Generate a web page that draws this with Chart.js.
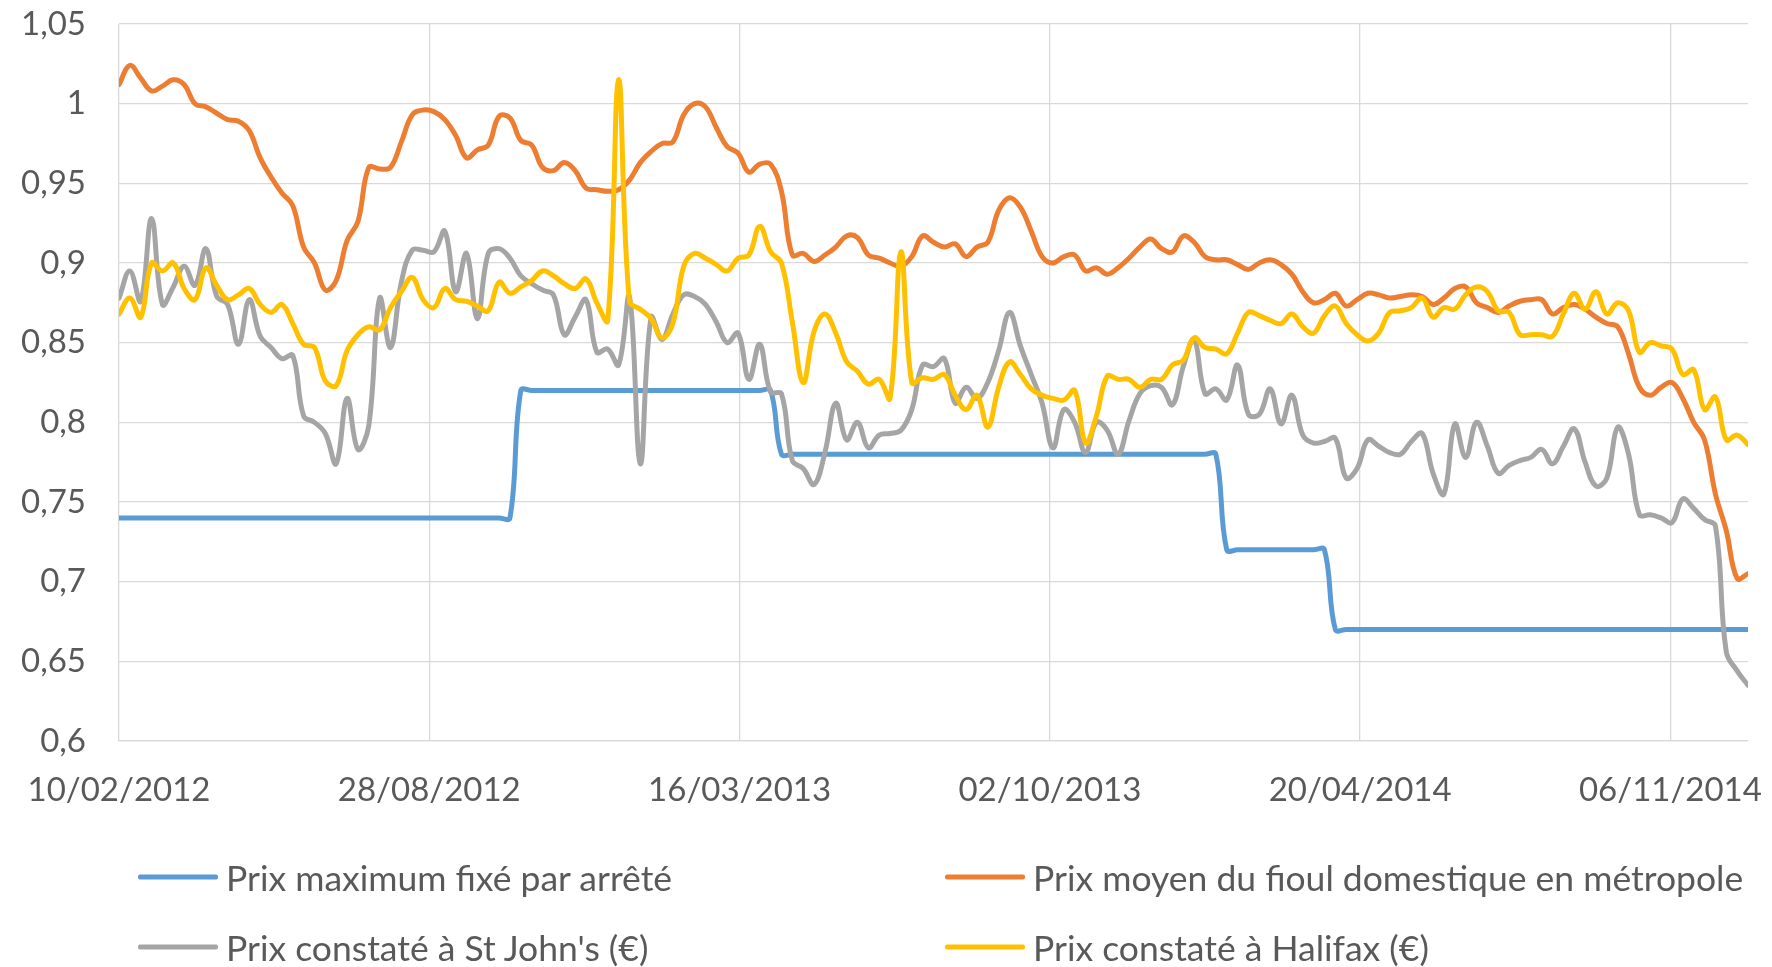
<!DOCTYPE html>
<html lang="fr">
<head>
<meta charset="utf-8">
<title>Prix du fioul domestique</title>
<script src="https://cdn.jsdelivr.net/npm/chart.js@4"></script>
<style>
  html, body { margin: 0; padding: 0; background: #fff; }
  .wrap { position: relative; width: 1772px; height: 967px; }
  canvas { position: absolute; left: 0; top: 0; }
  .item {
    position: absolute;
    display: flex;
    align-items: center;
    transform: translateY(-50%);
    font-family: Lato, "Liberation Sans", sans-serif;
    font-size: 35.5px;
    color: #595959;
    white-space: nowrap;
  }
  .trait { display: inline-block; width: 80px; height: 5px; margin-right: 8px; border-radius: 2px; }
</style>
</head>
<body>
<div class="wrap">
  <canvas id="graphPrix" width="1772" height="967"></canvas>
  <div id="legende"></div>
</div>
<script>
// jours depuis le 10/02/2012 (relevés hebdomadaires)
const jours = [0,7,14,21,28,35,42,49,56,63,70,77,84,91,98,105,112,119,126,133,
  140,147,154,161,168,175,182,189,196,203,210,217,224,231,238,245,252,259,266,273,
  280,287,294,301,308,315,322,329,336,343,350,357,364,371,378,385,392,399,406,413,
  420,427,434,441,448,455,462,469,476,483,490,497,504,511,518,525,532,539,546,553,
  560,567,574,581,588,595,602,609,616,623,630,637,644,651,658,665,672,679,686,693,
  700,707,714,721,728,735,742,749,756,763,770,777,784,791,798,805,812,819,826,833,
  840,847,854,861,868,875,882,889,896,903,910,917,924,931,938,945,952,959,966,973,
  980,987,994,1001,1008,1015,1022,1029,1036,1043,1050];

// prix maximum fixé par arrêté (paliers)
const joursArrete = [0,245,252,259,266,413,420,427,434,700,707,714,721,770,777,784,791,1050];
const prixArrete = [0.74,0.74,0.74,0.82,0.82,0.82,0.82,0.78,0.78,0.78,0.78,0.72,0.72,0.72,0.72,0.67,0.67,0.67];

const prixMetropole = [
  1.012,1.024,1.016,1.008,1.011,1.015,1.012,1.0,0.998,0.994,
  0.99,0.989,0.983,0.966,0.954,0.944,0.936,0.91,0.90,0.883,
  0.889,0.914,0.926,0.960,0.959,0.960,0.976,0.993,0.996,0.995,
  0.990,0.980,0.966,0.971,0.974,0.992,0.991,0.977,0.974,0.960,
  0.958,0.963,0.958,0.947,0.946,0.945,0.946,0.952,0.963,0.970,
  0.975,0.976,0.993,1.0,0.998,0.985,0.973,0.969,0.957,0.962,
  0.962,0.945,0.905,0.906,0.901,0.905,0.910,0.917,0.916,0.905,
  0.903,0.900,0.898,0.904,0.917,0.913,0.910,0.912,0.904,0.910,
  0.913,0.933,0.941,0.935,0.920,0.904,0.900,0.904,0.905,0.895,
  0.897,0.893,0.897,0.903,0.910,0.915,0.909,0.907,0.917,0.913,
  0.904,0.902,0.902,0.899,0.896,0.900,0.902,0.899,0.893,0.882,
  0.875,0.877,0.881,0.873,0.877,0.881,0.880,0.878,0.879,0.880,
  0.879,0.874,0.878,0.884,0.885,0.875,0.872,0.869,0.873,0.876,
  0.877,0.877,0.868,0.872,0.874,0.871,0.866,0.862,0.860,0.843,
  0.822,0.817,0.822,0.825,0.815,0.800,0.789,0.755,0.732,0.702,
  0.705];

const prixStJohns = [
  0.878,0.895,0.876,0.928,0.874,0.885,0.898,0.886,0.909,0.879,
  0.874,0.849,0.877,0.854,0.847,0.840,0.842,0.804,0.800,0.793,
  0.774,0.815,0.783,0.798,0.878,0.847,0.888,0.908,0.908,0.907,
  0.920,0.882,0.906,0.865,0.906,0.909,0.903,0.892,0.887,0.883,
  0.880,0.855,0.866,0.877,0.844,0.846,0.836,0.879,0.774,0.866,
  0.852,0.868,0.880,0.879,0.874,0.863,0.850,0.856,0.827,0.849,
  0.819,0.818,0.776,0.771,0.761,0.781,0.812,0.789,0.800,0.784,
  0.792,0.793,0.795,0.808,0.836,0.835,0.840,0.812,0.822,0.815,
  0.825,0.845,0.869,0.848,0.830,0.812,0.784,0.808,0.800,0.781,
  0.800,0.795,0.780,0.801,0.818,0.823,0.822,0.811,0.835,0.852,
  0.818,0.821,0.814,0.836,0.805,0.805,0.821,0.799,0.817,0.792,
  0.787,0.788,0.790,0.765,0.771,0.789,0.785,0.781,0.780,0.788,
  0.793,0.768,0.755,0.799,0.778,0.800,0.785,0.768,0.773,0.776,
  0.778,0.783,0.774,0.785,0.796,0.775,0.760,0.765,0.797,0.780,
  0.742,0.742,0.740,0.737,0.752,0.746,0.739,0.735,0.656,0.644,
  0.635];

const prixHalifax = [
  0.868,0.878,0.866,0.900,0.895,0.900,0.884,0.877,0.897,0.886,
  0.877,0.880,0.884,0.874,0.869,0.874,0.862,0.849,0.847,0.826,
  0.823,0.845,0.855,0.860,0.858,0.872,0.882,0.891,0.877,0.872,
  0.884,0.877,0.876,0.873,0.870,0.888,0.881,0.885,0.889,0.895,
  0.892,0.887,0.884,0.890,0.875,0.864,1.015,0.876,0.871,0.865,
  0.853,0.862,0.898,0.906,0.903,0.899,0.895,0.903,0.905,0.923,
  0.907,0.900,0.863,0.825,0.857,0.868,0.856,0.838,0.832,0.824,
  0.827,0.815,0.907,0.825,0.828,0.827,0.830,0.817,0.808,0.817,
  0.797,0.822,0.838,0.830,0.821,0.817,0.815,0.814,0.820,0.787,
  0.804,0.829,0.827,0.827,0.822,0.827,0.827,0.836,0.839,0.853,
  0.847,0.846,0.843,0.856,0.869,0.867,0.864,0.862,0.868,0.860,
  0.856,0.867,0.873,0.862,0.855,0.851,0.856,0.869,0.870,0.872,
  0.878,0.866,0.872,0.871,0.880,0.885,0.882,0.870,0.869,0.855,
  0.855,0.855,0.854,0.868,0.881,0.871,0.882,0.868,0.875,0.870,
  0.844,0.850,0.848,0.846,0.830,0.833,0.808,0.816,0.789,0.792,
  0.786];

const nomsSeries = [
  "Prix maximum fixé par arrêté",
  "Prix moyen du fioul domestique en métropole",
  "Prix constaté à St John's (€)",
  "Prix constaté à Halifax (€)"
];
const couleurs = ['#5b9bd5', '#ed7d31', '#a5a5a5', '#ffc000'];

const dateDebut = new Date(2012, 1, 10);
const police = { family: 'Lato, "Liberation Sans", sans-serif', size: 33 };

/**
 * transforme un nombre de jours en date jj/mm/aaaa
 */
function formatDate(nbJours) {
  const d = new Date(dateDebut.getFullYear(), dateDebut.getMonth(), dateDebut.getDate() + nbJours);
  const jj = String(d.getDate()).padStart(2, '0');
  const mm = String(d.getMonth() + 1).padStart(2, '0');
  return jj + '/' + mm + '/' + d.getFullYear();
}

function points(xs, ys) {
  return xs.map((x, i) => ({ x: x, y: ys[i] }));
}

function serie(i, data, ordre) {
  return {
    label: nomsSeries[i],
    data: data,
    borderColor: couleurs[i],
    backgroundColor: couleurs[i],
    borderWidth: 5,
    pointRadius: 0,
    tension: 0.4,
    borderCapStyle: 'round',
    borderJoinStyle: 'round',
    order: ordre,
  };
}

const ctx = document.getElementById('graphPrix');

new Chart(ctx, {
  type: 'line',
  data: {
    datasets: [
      serie(0, points(joursArrete, prixArrete), 3),
      serie(1, points(jours, prixMetropole), 2),
      serie(2, points(jours, prixStJohns), 1),
      serie(3, points(jours, prixHalifax), 0),
    ]
  },
  options: {
    responsive: false,
    animation: false,
    layout: { padding: { top: 24, right: 24, bottom: 146, left: 0 } },
    plugins: {
      legend: { display: false },
      tooltip: { enabled: false }
    },
    scales: {
      x: {
        type: 'linear',
        min: 0,
        max: 1050,
        grid: { color: '#d9d9d9', lineWidth: 1.3, drawTicks: false },
        border: { color: '#d9d9d9', width: 1.3 },
        ticks: {
          stepSize: 200,
          includeBounds: false,
          autoSkip: false,
          maxRotation: 0,
          padding: 30,
          color: '#595959',
          font: police,
          callback: (v) => formatDate(v)
        },
        afterFit: (s) => {
          s.height = 80;
          s.paddingLeft = 0;
          s.paddingRight = 0;
        }
      },
      y: {
        min: 0.6,
        max: 1.05,
        grid: { color: '#d9d9d9', lineWidth: 1.3, drawTicks: false },
        border: { display: false },
        ticks: {
          stepSize: 0.05,
          padding: 33,
          color: '#595959',
          font: police,
          callback: (v) => String(Number(v.toFixed(2))).replace('.', ',')
        },
        afterFit: (s) => {
          s.width = 119;
          s.paddingTop = 0;
          s.paddingBottom = 0;
        }
      }
    }
  }
});

// légende sur deux colonnes comme dans le tableur
const positionsLegende = [[138, 877], [945, 877], [138, 947], [945, 947]];
const legendeElem = document.getElementById('legende');
nomsSeries.forEach((nom, i) => {
  const item = document.createElement('div');
  item.className = 'item';
  item.style.left = positionsLegende[i][0] + 'px';
  item.style.top = positionsLegende[i][1] + 'px';
  const trait = document.createElement('span');
  trait.className = 'trait';
  trait.style.background = couleurs[i];
  const texte = document.createElement('span');
  texte.textContent = nom;
  item.appendChild(trait);
  item.appendChild(texte);
  legendeElem.appendChild(item);
});
</script>
</body>
</html>
